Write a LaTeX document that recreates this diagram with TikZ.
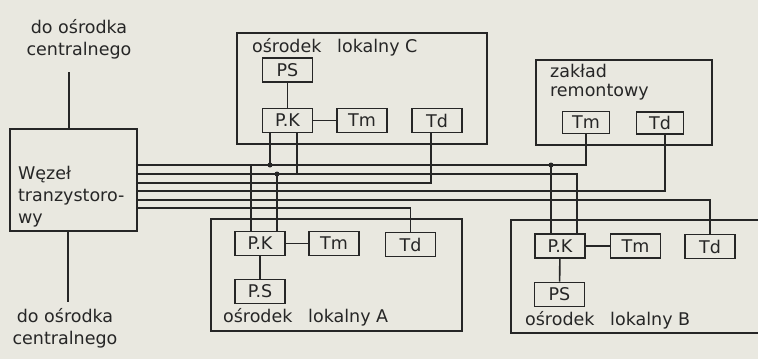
\documentclass[tikz,border=0pt]{standalone}
\usepackage{fontspec}
\setmainfont{DejaVu Sans}
\usepackage{tikz}
\definecolor{paper}{RGB}{233,232,224}
\definecolor{ink}{RGB}{38,38,38}

\begin{document}
\begin{tikzpicture}[x=1pt, y=-1pt, line width=1.6pt, draw=ink,
        every node/.style={font=\fontsize{17.5}{22}\selectfont, text=ink},
        station/.style={draw, line width=2.2pt, inner sep=0pt},
        unit/.style={draw, line width=1.7pt, minimum width=50pt, minimum height=24pt, inner sep=0pt},
        junction/.style={circle, fill=ink, inner sep=0pt, minimum size=5pt}]
            \fill[paper] (0, 0) rectangle (758, 359);
            \clip (0, 0) rectangle (758, 359);

            \node[station, minimum width=127pt, minimum height=102pt] (wezel) at (73.5, 180) {};
            \node[anchor=west, align=left] (wezelText) at (14, 197) {Węzeł\\tranzystoro-\\wy};
            \node[align=center] (topText) at (79, 39) {do ośrodka\\centralnego};
            \node[align=center] (bottomText) at (65, 328) {do ośrodka\\centralnego};

            \node[station, minimum width=250pt, minimum height=111pt] (stC) at (362, 88.5) {};
            \node[anchor=west] (stCText) at (248, 47) {ośrodek\hspace{0.9em}lokalny C};
            \node[unit] (cPS) at (287.5, 70) {PS};
            \node[unit] (cPK) at (287.5, 120.5) {P.K};
            \node[unit] (cTm) at (362, 120.5) {Tm};
            \node[unit] (cTd) at (437, 120.5) {Td};

            \node[station, minimum width=176pt, minimum height=85pt] (zaklad) at (624, 102.5) {};
            \node[anchor=north west, align=left, font=\fontsize{17.5}{19}\selectfont] (zakladText) at (546, 60) {zakład\\remontowy};
            \node[unit, minimum width=47pt, minimum height=22pt] (zTm) at (586, 122.5) {Tm};
            \node[unit, minimum width=47pt, minimum height=22pt] (zTd) at (660, 123) {Td};

            \node[station, minimum width=251pt, minimum height=112pt] (stA) at (336.5, 275) {};
            \node[anchor=west] (stAText) at (219, 317) {ośrodek\hspace{0.9em}lokalny A};
            \node[unit] (aPK) at (260, 243.5) {P.K};
            \node[unit] (aTm) at (334, 243.5) {Tm};
            \node[unit] (aTd) at (410.5, 244.5) {Td};
            \node[unit] (aPS) at (260, 291.5) {P.S};

            \node[station, minimum width=264pt, minimum height=113pt] (stB) at (643, 276.5) {};
            \node[anchor=west] (stBText) at (521, 320) {ośrodek\hspace{0.9em}lokalny B};
            \node[unit] (bPK) at (560, 246) {P.K};
            \node[unit] (bTm) at (635.5, 246) {Tm};
            \node[unit] (bTd) at (710, 246.5) {Td};
            \node[unit] (bPS) at (559.5, 294.5) {PS};

            \coordinate (upEnd) at (69, 72);
            \coordinate (downEnd) at (68, 302);
            \draw (upEnd |- wezel.north) -- (upEnd);
            \draw (downEnd |- wezel.south) -- (downEnd);

            \draw (cPS) -- (cPK);
            \draw (cPK) -- (cTm);
            \draw (aPK) -- (aTm);
            \draw (aPK) -- (aPS);
            \draw (bPK) -- (bTm);
            \draw (bPK) -- (bPS);

            \coordinate (w1) at (137, 165);
            \coordinate (w2) at (137, 174);
            \coordinate (w3) at (137, 183);
            \coordinate (w4) at (137, 191);
            \coordinate (w5) at (137, 200);
            \coordinate (w6) at (137, 208);

            \coordinate (cL) at ([xshift=-17.5pt]cPK.south);
            \coordinate (cR) at ([xshift=9.5pt]cPK.south);
            \coordinate (cTdEnd) at ([xshift=-6pt]cTd.south);
            \coordinate (zTdEnd) at ([xshift=5pt]zTd.south);
            \coordinate (aL) at ([xshift=-9pt]aPK.north);
            \coordinate (aR) at ([xshift=17pt]aPK.north);
            \coordinate (bL) at ([xshift=-9pt]bPK.north);
            \coordinate (bR) at ([xshift=17pt]bPK.north);

            \draw (w1) -| (zTm.south);
            \draw (w2) -| (bR);
            \draw (w3) -| (cTdEnd);
            \draw (w4) -| (zTdEnd);
            \draw (w5) -| (bTd.north);
            \draw (w6) -| (aTd.north);

            \draw (cL) -- (cL |- w1);
            \draw (cR) -- (cR |- w2);
            \draw (aL) -- (aL |- w1);
            \draw (aR) -- (aR |- w2);
            \draw (bL) -- (bL |- w1);

            \node[junction] (dotC) at (cL |- w1) {};
            \node[junction] (dotA) at (aR |- w2) {};
            \node[junction] (dotB) at (bL |- w1) {};
        \end{tikzpicture}
\end{document}
